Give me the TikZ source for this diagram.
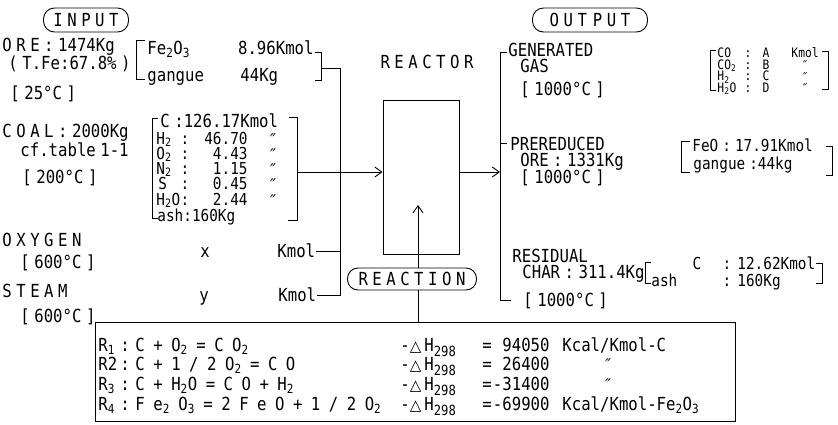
\documentclass[tikz,border=0pt]{standalone}
\usepackage{fontspec}
\usepackage{tikz}
\usetikzlibrary{arrows.meta, positioning}
\newfontfamily\diafont{DejaVu Sans Mono}[FakeStretch=0.87]
\newfontfamily\symfont{DejaVu Sans}
\newcommand\mainsz{\diafont\fontsize{18}{20}\selectfont\spaceskip=4.5pt plus 1pt\relax}
\newcommand\eqsz{\diafont\fontsize{18}{20}\selectfont\spaceskip=8.5pt plus 1pt\relax}
\newcommand\midsz{\diafont\fontsize{16.5}{18}\selectfont\spaceskip=4pt plus 1pt\relax}
\newcommand\smsz{\diafont\fontsize{13}{14}\selectfont\spaceskip=3.5pt plus 1pt\relax}
\newcommand\dittomark{{\symfont\itshape\fontsize{16}{16}\selectfont ″}}
\newcommand\smallditto{{\symfont\itshape\fontsize{12}{12}\selectfont ″}}
\newcommand\dtri{{\symfont\fontsize{15}{15}\selectfont △}}
\newcommand\lowsub[1]{\raisebox{-0.3em}{\fontsize{14}{14}\selectfont #1}}
\tikzset{
  lbl/.style={inner sep=0pt, anchor=west, text height=13pt, text depth=0pt, font=\mainsz},
  eqn/.style={lbl, font=\eqsz},
  mid/.style={inner sep=0pt, anchor=west, text height=12pt, text depth=0pt, font=\midsz},
  sml/.style={inner sep=0pt, anchor=west, text height=9.5pt, text depth=0pt, font=\smsz},
  oval/.style={draw, rounded corners=11pt, minimum height=24pt, inner sep=0pt,
    text height=13pt, text depth=0pt, font=\mainsz},
}

\begin{document}
\begin{tikzpicture}[x=1pt, y=-1pt, line width=0.9pt,
    >={Straight Barb[length=7pt, width=10pt]}]
\useasboundingbox (0,0) rectangle (838,424);

% input side
\node[oval, minimum width=85] (input) at (86,20) {I N P U T};
\node[lbl] (ore) at (2,45) {O R E : 1474Kg};
\node[lbl] (oretfe) at (8,63) {( T.Fe:67.8\% )};
\node[lbl] (oretemp) at (10,93) {[ 25°C ]};
\node[lbl] (fe2o3) at (147,48) {Fe\textsubscript{2}O\textsubscript{3}};
\node[lbl, anchor=east] (fe2o3val) at (314,48) {8.96Kmol};
\node[lbl] (gangue) at (147,75) {gangue};
\node[lbl] (gangueval) at (240,75) {44Kg};
\draw (145,40) -- (136,40) -- (136,79) -- (145,79);
\draw (315,52) -- (321,52) -- (321,80) -- (315,80);
\coordinate (oremid) at (321,68);

\node[lbl] (coal) at (2,131) {C O A L : 2000Kg};
\node[lbl] (coalref) at (20,150) {cf.table 1-1};
\node[lbl] (coaltemp) at (22,177) {[ 200°C ]};
\node[lbl] (cC) at (160,121) {C :126.17Kmol};
\node[mid] (cH) at (156,138) {H\textsubscript{2}};
\node[mid, anchor=center] (cHc) at (185,138) {:};
\node[mid, anchor=east] (cHv) at (248,138) {46.70};
\node[mid, anchor=center] (cHd) at (273,139) {\dittomark};
\node[mid] (cO) at (156,153) {O\textsubscript{2}};
\node[mid, anchor=center] (cOc) at (185,153) {:};
\node[mid, anchor=east] (cOv) at (248,153) {4.43};
\node[mid, anchor=center] (cOd) at (273,154) {\dittomark};
\node[mid] (cN) at (156,168) {N\textsubscript{2}};
\node[mid, anchor=center] (cNc) at (185,168) {:};
\node[mid, anchor=east] (cNv) at (248,168) {1.15};
\node[mid, anchor=center] (cNd) at (273,169) {\dittomark};
\node[mid] (cS) at (158,183) {S};
\node[mid, anchor=center] (cSc) at (185,183) {:};
\node[mid, anchor=east] (cSv) at (248,183) {0.45};
\node[mid, anchor=center] (cSd) at (273,184) {\dittomark};
\node[mid] (cW) at (156,199) {H\textsubscript{2}O};
\node[mid, anchor=center] (cWc) at (185,199) {:};
\node[mid, anchor=east] (cWv) at (248,199) {2.44};
\node[mid, anchor=center] (cWd) at (273,200) {\dittomark};
\node[mid] (cash) at (157,215) {ash:160Kg};
\draw (158,118) -- (152,118) -- (152,218) -- (158,218);
\draw (289,117) -- (297,117) -- (297,220) -- (288,220);
\coordinate (coalout) at (297,172);

\node[lbl] (oxy) at (2,240) {O X Y G E N};
\node[lbl] (oxytemp) at (20,262) {[ 600°C ]};
\node[lbl, anchor=center] (oxyx) at (205,251) {x};
\node[lbl] (oxyk) at (277,251) {Kmol};
\node[lbl] (steam) at (2,291) {S T E A M};
\node[lbl] (steamtemp) at (20,316) {[ 600°C ]};
\node[lbl, anchor=center] (steamy) at (204,295) {y};
\node[lbl] (steamk) at (278,295) {Kmol};

\coordinate (inbus) at (340,68);
\draw (oremid) -- (inbus) -- (inbus |- steamk.east) -- (steamk.east);
\draw (oxyk.east) -- (oxyk.east -| inbus);

% reactor
\node[lbl, anchor=center] (reactortitle) at (427,62) {R E A C T O R};
\node[draw, minimum width=76, minimum height=154, inner sep=0pt] (reactor) at (421,177) {};
\draw[->] (coalout) -- (coalout -| reactor.west);
\coordinate (rin) at (418,205);
\node[oval, minimum width=129, minimum height=22, rounded corners=10.5pt] (reaction) at (412,279) {R E A C T I O N};
\draw[->] (reaction.north -| rin) -- (rin);
\node[draw, minimum width=640, minimum height=99, inner sep=0pt, anchor=north west] (rtable) at (95,322) {};
\draw (reaction.south -| rin) -- (rin |- rtable.north);

% reactions
\node[lbl] (r1) at (98,345) {R\textsubscript{1}};
\node[lbl, anchor=center] (r1c) at (125,345) {:};
\node[eqn] (r1eq) at (135,345) {C + O\textsubscript{2} = C O\textsubscript{2}};
\node[lbl] (r1dh) at (400,345) {-\dtri\,H\lowsub{298}};
\node[lbl, anchor=center] (r1eqs) at (487,345) {=};
\node[lbl, anchor=east] (r1val) at (550,345) {94050};
\node[lbl] (r1unit) at (562,345) {Kcal/Kmol-C};

\node[lbl] (r2) at (98,364) {R2};
\node[lbl, anchor=center] (r2c) at (125,364) {:};
\node[eqn] (r2eq) at (135,364) {C + 1 / 2 O\textsubscript{2} = C O};
\node[lbl] (r2dh) at (400,364) {-\dtri\,H\lowsub{298}};
\node[lbl, anchor=center] (r2eqs) at (487,364) {=};
\node[lbl, anchor=east] (r2val) at (550,364) {26400};
\node[lbl, anchor=center] (r2unit) at (608,364) {\dittomark};

\node[lbl] (r3) at (98,384) {R\textsubscript{3}};
\node[lbl, anchor=center] (r3c) at (125,384) {:};
\node[eqn] (r3eq) at (135,384) {C + H\textsubscript{2}O = C O + H\textsubscript{2}};
\node[lbl] (r3dh) at (400,384) {-\dtri\,H\lowsub{298}};
\node[lbl, anchor=center] (r3eqs) at (487,384) {=};
\node[lbl, anchor=east] (r3val) at (550,384) {-31400};
\node[lbl, anchor=center] (r3unit) at (608,384) {\dittomark};

\node[lbl] (r4) at (98,404) {R\textsubscript{4}};
\node[lbl, anchor=center] (r4c) at (125,404) {:};
\node[eqn] (r4eq) at (135,404) {F e\textsubscript{2} O\textsubscript{3} = 2 F e O + 1 / 2 O\textsubscript{2}};
\node[lbl] (r4dh) at (400,404) {-\dtri\,H\lowsub{298}};
\node[lbl, anchor=center] (r4eqs) at (487,404) {=};
\node[lbl, anchor=east] (r4val) at (550,404) {-69900};
\node[lbl] (r4unit) at (562,404) {Kcal/Kmol-Fe\textsubscript{2}O\textsubscript{3}};

% output side
\node[oval, minimum width=115] (output) at (590,20) {O U T\hspace{6pt}P U T};
\coordinate (outtop) at (500,52);
\coordinate (outbot) at (500,300);
\draw (507,52) -- (outtop) -- (outbot) -- (511,300);
\draw (500,143) -- (507,143);
\draw[->] (reactor.east |- coalout) -- (outtop |- coalout);

\node[lbl] (gen) at (508,50) {GENERATED};
\node[lbl] (gengas) at (520,66) {GAS};
\node[lbl] (gentemp) at (520,89) {[ 1000°C ]};
\node[sml] (gco) at (717,53) {CO};
\node[sml] (gco2) at (717,64.5) {CO\textsubscript{2}};
\node[sml] (gh2) at (717,76) {H\textsubscript{2}};
\node[sml] (gh2o) at (717,87.5) {H\textsubscript{2}O};
\node[sml, anchor=center] (gcoc) at (748,53) {:};
\node[sml, anchor=center] (gco2c) at (748,64.5) {:};
\node[sml, anchor=center] (gh2c) at (748,76) {:};
\node[sml, anchor=center] (gh2oc) at (748,87.5) {:};
\node[sml, anchor=center] (gcov) at (766,53) {A};
\node[sml, anchor=center] (gco2v) at (766,64.5) {B};
\node[sml, anchor=center] (gh2v) at (766,76) {C};
\node[sml, anchor=center] (gh2ov) at (766,87.5) {D};
\node[sml] (gcou) at (791,53) {Kmol};
\node[sml, anchor=center] (gco2u) at (805,65) {\smallditto};
\node[sml, anchor=center] (gh2u) at (805,76.5) {\smallditto};
\node[sml, anchor=center] (gh2ou) at (805,88) {\smallditto};
\draw (716,50) -- (710,50) -- (710,90) -- (716,90);
\draw (822,51) -- (828,51) -- (828,89) -- (822,89);

\node[lbl] (pre) at (510,144) {PREREDUCED};
\node[lbl] (preore) at (520,160) {ORE : 1331Kg};
\node[lbl] (pretemp) at (520,177) {[ 1000°C ]};
\node[mid] (prefeo) at (692,145) {FeO : 17.91Kmol};
\node[mid] (pregan) at (693,163) {gangue :44kg};
\draw (690,141) -- (681,141) -- (681,172) -- (690,172);
\draw (826,146) -- (832,146) -- (832,175) -- (826,175);

\node[lbl] (res) at (512,256) {RESIDUAL};
\node[lbl] (rchar) at (522,272) {CHAR : 311.4Kg};
\node[lbl] (restemp) at (523,300) {[ 1000°C ]};
\node[mid, anchor=center] (rc) at (697,263) {C};
\node[mid, anchor=center] (rcc) at (727,263) {:};
\node[mid] (rcv) at (737,263) {12.62Kmol};
\node[mid] (rash) at (651,280) {ash};
\node[mid, anchor=center] (rashc) at (727,280) {:};
\node[mid] (rashv) at (737,280) {160Kg};
\draw (651,262) -- (645,262) -- (645,283) -- (651,283);
\draw (816,263) -- (822,263) -- (822,283) -- (816,283);
\end{tikzpicture}
\end{document}
